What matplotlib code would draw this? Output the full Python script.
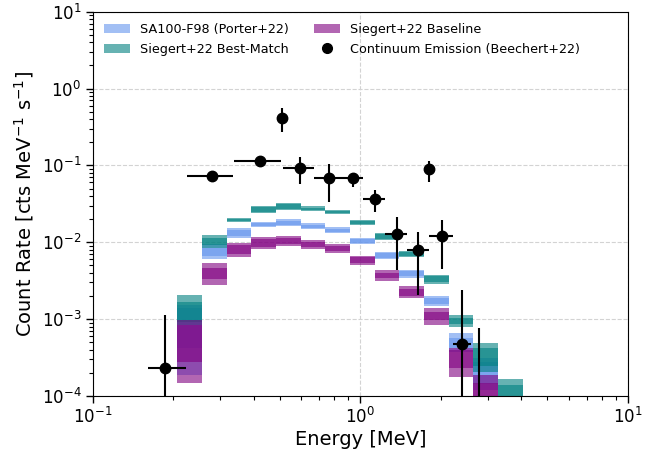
import numpy as np
import matplotlib
matplotlib.use("Agg")
import matplotlib.pyplot as plt
from matplotlib.patches import Patch
from matplotlib.lines import Line2D

# ---------------- data ----------------
# model energy bin edges [MeV]
bin_edges = [0.2073, 0.2563, 0.3170, 0.3918, 0.4844, 0.5989, 0.7405, 0.9155,
             1.132, 1.399, 1.730, 2.139, 2.645, 3.270, 4.043]

# SA100-F98 (Porter+22): outer and inner bands (low, high)
sa_out_lo = [1.87e-4, 0.00601, 0.01127, 0.01595, 0.01628, 0.01501, 0.01309, 0.00942,
             0.00606, 0.00346, 0.00148, 3.73e-4, 1.20e-4, 4.0e-5]
sa_out_hi = [1.53e-3, 0.00950, 0.01520, 0.01820, 0.01991, 0.01766, 0.01567, 0.01147,
             0.00741, 0.00436, 0.00202, 6.55e-4, 3.12e-4, 9.0e-5]
sa_in_lo = [4.21e-4, 0.00669, 0.01208, 0.01644, 0.01693, 0.01556, 0.01361, 0.00979,
            0.00630, 0.00364, 0.00157, 4.21e-4, 1.43e-4, 5.0e-5]
sa_in_hi = [1.40e-3, 0.00850, 0.01445, 0.01766, 0.01892, 0.01703, 0.01511, 0.01104,
            0.00715, 0.00417, 0.00191, 5.73e-4, 2.77e-4, 8.0e-5]

# Siegert+22 Best-Match
bm_out_lo = [8.39e-4, 0.00843, 0.01836, 0.02382, 0.02630, 0.02530, 0.02312, 0.01678,
             0.01071, 0.00637, 0.00286, 7.83e-4, 2.05e-4, 4.88e-5]
bm_out_hi = [2.06e-3, 0.01244, 0.02089, 0.02965, 0.03273, 0.02930, 0.02630, 0.01950,
             0.01309, 0.00777, 0.00375, 1.132e-3, 4.85e-4, 1.66e-4]
bm_in_lo = [9.26e-4, 0.00922, 0.01892, 0.02477, 0.02735, 0.02607, 0.02382, 0.01729,
            0.01113, 0.00663, 0.00304, 8.65e-4, 2.45e-4, 5.66e-5]
bm_in_hi = [1.69e-3, 0.01127, 0.02028, 0.02851, 0.03149, 0.02819, 0.02553, 0.01892,
            0.01263, 0.00748, 0.00359, 1.035e-3, 4.17e-4, 1.39e-4]

# Siegert+22 Baseline
bl_out_lo = [1.48e-4, 0.00275, 0.00649, 0.00811, 0.00895, 0.00819, 0.00719, 0.00506,
             0.00316, 0.00187, 8.39e-4, 1.78e-4, 4.88e-5, 3.0e-5]
bl_out_hi = [9.75e-4, 0.00542, 0.00988, 0.01182, 0.01219, 0.01071, 0.00950, 0.00669,
             0.00436, 0.00272, 0.00138, 4.17e-4, 1.87e-4, 6.0e-5]
bl_in_lo = [2.77e-4, 0.00330, 0.00704, 0.00860, 0.00960, 0.00869, 0.00759, 0.00538,
            0.00343, 0.00203, 9.75e-4, 2.29e-4, 5.66e-5, 3.5e-5]
bl_in_hi = [8.39e-4, 0.00467, 0.00922, 0.01094, 0.01127, 0.01009, 0.00895, 0.00634,
            0.00404, 0.00250, 0.00124, 3.96e-4, 1.48e-4, 5.5e-5]

# Continuum Emission (Beechert+22)
pt_energy = [0.1873, 0.2802, 0.4211, 0.511, 0.5957, 0.7627, 0.9371, 1.132,
             1.368, 1.643, 1.809, 2.020, 2.405, 2.784]
pt_e_lo = [0.1612, 0.2247, 0.3377, 0.511, 0.5159, 0.6737, 0.8527, 1.027,
           1.237, 1.491, 1.809, 1.811, 2.226, 2.585]
pt_e_hi = [0.2234, 0.3357, 0.5045, 0.511, 0.6737, 0.8527, 1.0214, 1.237,
           1.491, 1.811, 1.809, 2.226, 2.585, 3.000]
pt_rate = [2.33e-4, 0.0728, 0.1151, 0.4102, 0.0934, 0.0692, 0.0680, 0.03656,
           0.01282, 0.00801, 0.0890, 0.01207, 4.71e-4, 5.0e-5]
pt_rate_lo = [1e-7, 0.0609, 0.1039, 0.2698, 0.0568, 0.0331, 0.0528, 0.0250,
              0.004358, 0.00206, 0.0603, 0.00445, 1e-7, 1e-7]
pt_rate_hi = [1.132e-3, 0.0797, 0.1277, 0.5535, 0.1299, 0.1034, 0.0790, 0.0479,
              0.02113, 0.01373, 0.1151, 0.0195, 2.39e-3, 7.6e-4]

labels = ["SA100-F98 (Porter+22)", "Siegert+22 Best-Match",
          "Siegert+22 Baseline", "Continuum Emission (Beechert+22)"]
colors = ["cornflowerblue", "teal", "purple"]

# ---------------- plot ----------------
fig = plt.figure(figsize=(6.54, 4.49), dpi=100)
ax = fig.add_axes([92.5 / 654, 1 - 396 / 449, (628 - 92.5) / 654, (396 - 11.7) / 449])
ax.set_xscale("log")
ax.set_yscale("log")

edges = np.array(bin_edges)
models = [
    (sa_out_lo, sa_out_hi, sa_in_lo, sa_in_hi),
    (bm_out_lo, bm_out_hi, bm_in_lo, bm_in_hi),
    (bl_out_lo, bl_out_hi, bl_in_lo, bl_in_hi),
]
for (olo, ohi, ilo, ihi), c in zip(models, colors):
    for lo, hi in ((olo, ohi), (ilo, ihi)):
        lo = np.append(lo, lo[-1])
        hi = np.append(hi, hi[-1])
        ax.fill_between(edges, lo, hi, step="post", color=c, alpha=0.6,
                        linewidth=0, zorder=2)

e = np.array(pt_energy)
r = np.array(pt_rate)
xerr = [e - np.array(pt_e_lo), np.array(pt_e_hi) - e]
yerr = [r - np.array(pt_rate_lo), np.array(pt_rate_hi) - r]
ax.errorbar(e, r, xerr=xerr, yerr=yerr, fmt="o", color="black", ms=7.5,
            elinewidth=1.5, capsize=0, zorder=5)

ax.set_xlim(0.1, 10)
ax.set_ylim(1e-4, 10)
ax.grid(True, which="major", linestyle="--", color="#d3d3d3", linewidth=0.8, zorder=0)
ax.set_axisbelow(True)

ax.tick_params(which="major", length=5, width=1.0, labelsize=12, pad=3)
ax.tick_params(which="minor", length=3, width=0.8)

ax.set_xlabel("Energy [MeV]", fontsize=14, labelpad=2)
ax.set_ylabel("Count Rate [cts MeV$^{-1}$ s$^{-1}$]", fontsize=14)

handles = [Patch(facecolor=c, alpha=0.6, edgecolor="none") for c in colors]
handles.append(Line2D([], [], marker="o", linestyle="", color="black", ms=7))
ax.legend(handles, labels, loc="upper left", ncol=2, frameon=False, fontsize=9.2)

fig.savefig("out.png", dpi=100)
